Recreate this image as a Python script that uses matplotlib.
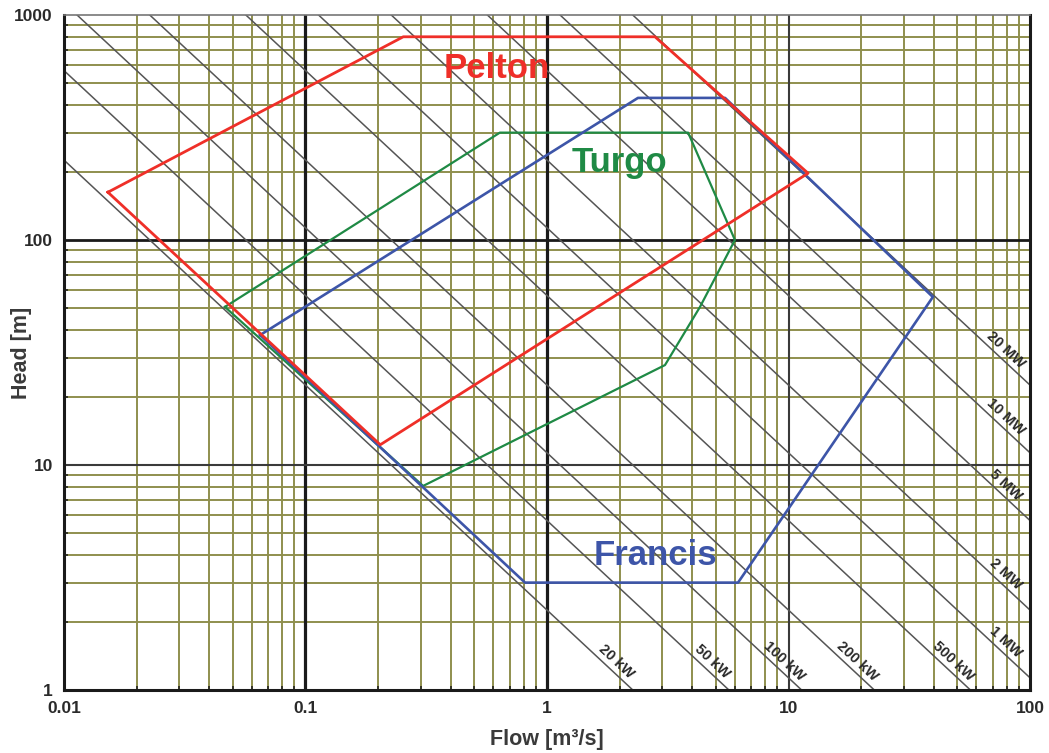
import numpy as np
import matplotlib.pyplot as plt

plt.rcParams['font.family'] = ['Liberation Sans', 'DejaVu Sans']

# power lines, P = 9.81 * eta * Q * H  (eta ~ 0.9)
eta = 0.9
power_kw = [20, 50, 100, 200, 500, 1000, 2000, 5000, 10000, 20000]
power_labels = ['20 kW', '50 kW', '100 kW', '200 kW', '500 kW',
                '1 MW', '2 MW', '5 MW', '10 MW', '20 MW']

# turbine application ranges (flow m3/s, head m)
pelton_q = [0.0152, 0.254, 2.8, 12.05, 0.204, 0.0152]
pelton_h = [163, 800, 800, 198, 12.3, 163]

turgo_q = [0.0464, 0.638, 3.84, 6.0, 4.3, 3.08, 0.307, 0.0464]
turgo_h = [50.4, 300, 300, 100, 50.4, 27.8, 8.07, 50.4]

francis_q = [0.0649, 2.38, 5.46, 39.6, 6.18, 0.811, 0.0649]
francis_h = [37.8, 428, 428, 55.8, 3.0, 3.0, 37.8]

x_ticks = [0.01, 0.1, 1, 10, 100]
x_ticklabels = ['0.01', '0.1', '1', '10', '100']
y_ticks = [1, 10, 100, 1000]
y_ticklabels = ['1', '10', '100', '1000']

RED = '#ef2f28'
GREEN = '#1f8a45'
BLUE = '#3d55a8'
OLIVE = '#8f8f4e'
TXT = '#2a2a2a'

fig = plt.figure(figsize=(10.49, 7.53), dpi=100)
ax = fig.add_axes([0.0610, 0.0837, 0.9209, 0.8964])
ax.set_xscale('log')
ax.set_yscale('log')
ax.set_xlim(0.01, 100)
ax.set_ylim(1, 1000)

# minor grid (olive)
for dec in [0.01, 0.1, 1, 10]:
    for m in range(2, 10):
        ax.axvline(dec * m, color=OLIVE, lw=1.4, zorder=0.5)
for dec in [1, 10, 100]:
    for m in range(2, 10):
        ax.axhline(dec * m, color=OLIVE, lw=1.4, zorder=0.5)

# major grid
ax.axvline(0.1, color='#1a1a1a', lw=2.3, zorder=0.8)
ax.axvline(1, color='#1a1a1a', lw=2.3, zorder=0.8)
ax.axvline(10, color='#3a3a3a', lw=1.5, zorder=0.8)
ax.axhline(100, color='#1a1a1a', lw=2.0, zorder=0.8)
ax.axhline(10, color='#3a3a3a', lw=1.5, zorder=0.8)

# constant power lines
q = np.logspace(-2, 2, 200)
for p in power_kw:
    ax.plot(q, p / (9.81 * eta * q), color='#555555', lw=1.1, zorder=1)

# angle of the lines on screen
p0 = ax.transData.transform((1, 10))
p1 = ax.transData.transform((10, 1))
ang = np.degrees(np.arctan2(p1[1] - p0[1], p1[0] - p0[0]))
off = (4.6, 4.9)
for p, lab in zip(power_kw, power_labels):
    k = p / (9.81 * eta)
    if p < 1000:
        xy = (k / 1.25, 1.25)
    else:
        xy = (74.5, k / 74.5)
    ax.annotate(lab, xy=xy, xytext=off, textcoords='offset points',
                rotation=ang, rotation_mode='anchor', ha='center', va='center',
                fontsize=10.5, fontweight='bold', color=TXT, zorder=2)

# turbine ranges
ax.plot(turgo_q, turgo_h, color=GREEN, lw=1.6, zorder=3)
ax.plot(francis_q, francis_h, color=BLUE, lw=1.9, zorder=3)
ax.plot(pelton_q, pelton_h, color=RED, lw=2.0, zorder=4)

ax.text(0.621, 581, 'Pelton', color=RED, fontsize=25, fontweight='bold',
        ha='center', va='center', zorder=5)
ax.text(2.0, 222, 'Turgo', color=GREEN, fontsize=25, fontweight='bold',
        ha='center', va='center', zorder=5)
ax.text(2.8, 3.98, 'Francis', color=BLUE, fontsize=25, fontweight='bold',
        ha='center', va='center', zorder=5)

# axes, ticks
ax.set_xticks(x_ticks)
ax.set_xticklabels(x_ticklabels)
ax.set_yticks(y_ticks)
ax.set_yticklabels(y_ticklabels)
ax.tick_params(which='major', length=0, pad=8, labelsize=12.5, labelcolor=TXT)
for lab in ax.get_xticklabels() + ax.get_yticklabels():
    lab.set_fontweight('bold')
ax.tick_params(which='minor', direction='in', length=3, width=1.1, color='#1a1a1a')
ax.tick_params(axis='x', which='minor', labelbottom=False)
ax.tick_params(axis='y', which='minor', labelleft=False)

for side in ['left', 'bottom', 'right']:
    ax.spines[side].set_linewidth(2.2)
    ax.spines[side].set_color('#1a1a1a')
ax.spines['top'].set_linewidth(1.2)
ax.spines['top'].set_color('#777777')

ax.set_xlabel('Flow [m³/s]', fontsize=15.5, fontweight='bold', color='#3a3a3a')
ax.set_ylabel('Head [m]', fontsize=15.5, fontweight='bold', color='#3a3a3a')
ax.xaxis.label.set_va('center')
ax.yaxis.label.set_va('center')
ax.xaxis.set_label_coords(0.5, -0.074)
ax.yaxis.set_label_coords(-0.0445, 0.5)

fig.savefig('out.png', dpi=100)
